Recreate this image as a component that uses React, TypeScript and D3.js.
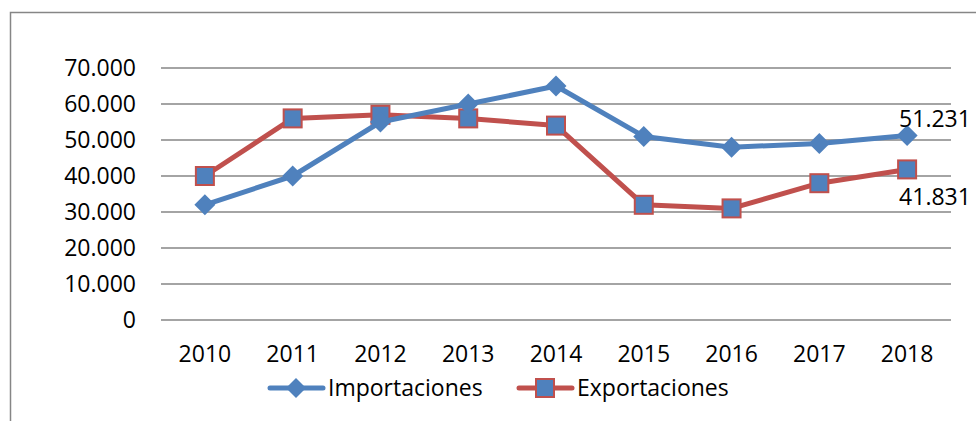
import { useEffect, useRef } from 'react';
import * as d3 from 'd3';

const years = ['2010', '2011', '2012', '2013', '2014', '2015', '2016', '2017', '2018'];
const importaciones = [32000, 40000, 55000, 60000, 65000, 51000, 48000, 49000, 51231];
const exportaciones = [40000, 56000, 57000, 56000, 54000, 32000, 31000, 38000, 41831];
const yTicks = [0, 10000, 20000, 30000, 40000, 50000, 60000, 70000];

const width = 976;
const height = 421;
const blue = '#4F81BD';
const red = '#C0504D';
const font = '"Open Sans", Lato, sans-serif';
const fs = 23;

const fmt = (v: number) => {
    if (v === 0) return '0';
    const s = Math.round(v).toString();
    return s.replace(/\B(?=(\d{3})+(?!\d))/g, '.');
};

export default function App() {
    const ref = useRef<SVGSVGElement>(null);

    useEffect(() => {
        const svg = d3.select(ref.current);
        svg.selectAll('*').remove();

        const x = d3.scaleBand().domain(years).range([161, 951]);
        const y = d3.scaleLinear().domain([0, 70000]).range([320, 68]);
        const cx = (d: string) => (x(d) ?? 0) + x.bandwidth() / 2;

        // frame
        svg.append('path')
            .attr('d', `M10.5,${height} L10.5,12.5 L${width},12.5`)
            .attr('fill', 'none')
            .attr('stroke', '#868686')
            .attr('stroke-width', 1.5);

        // grid
        svg.append('g').selectAll('line').data(yTicks).join('line')
            .attr('x1', 161).attr('x2', 951)
            .attr('y1', d => y(d)).attr('y2', d => y(d))
            .attr('stroke', '#868686').attr('stroke-width', 1.5);

        svg.append('g').selectAll('text').data(yTicks).join('text')
            .attr('x', 136).attr('y', d => y(d))
            .attr('dy', '0.35em')
            .attr('text-anchor', 'end')
            .attr('font-family', font).attr('font-size', fs)
            .text(d => fmt(d));

        svg.append('g').selectAll('text').data(years).join('text')
            .attr('x', d => cx(d)).attr('y', 354)
            .attr('dy', '0.35em')
            .attr('text-anchor', 'middle')
            .attr('font-family', font).attr('font-size', fs)
            .text(d => d);

        const line = d3.line<number>()
            .x((_, i) => cx(years[i]))
            .y(d => y(d));

        const diamond = (s: number) => `M0,${-s} L${s},0 L0,${s} L${-s},0 Z`;

        // exportaciones
        svg.append('path').attr('d', line(exportaciones))
            .attr('fill', 'none').attr('stroke', red).attr('stroke-width', 5)
            .attr('stroke-linejoin', 'round');
        svg.append('g').selectAll('rect').data(exportaciones).join('rect')
            .attr('x', (_, i) => cx(years[i]) - 9)
            .attr('y', d => y(d) - 9)
            .attr('width', 18).attr('height', 18)
            .attr('fill', blue).attr('stroke', red).attr('stroke-width', 2);

        // importaciones
        svg.append('path').attr('d', line(importaciones))
            .attr('fill', 'none').attr('stroke', blue).attr('stroke-width', 5)
            .attr('stroke-linejoin', 'round');
        svg.append('g').selectAll('path.m').data(importaciones).join('path')
            .attr('class', 'm')
            .attr('transform', (d, i) => `translate(${cx(years[i])},${y(d)})`)
            .attr('d', diamond(10.5))
            .attr('fill', blue);

        // value labels
        const last = years.length - 1;
        svg.append('text')
            .attr('x', cx(years[last]) - 8).attr('y', y(importaciones[last]) - 9)
            .attr('font-family', font).attr('font-size', fs)
            .text(fmt(importaciones[last]));
        svg.append('text')
            .attr('x', cx(years[last]) - 8).attr('y', y(exportaciones[last]) + 36)
            .attr('font-family', font).attr('font-size', fs)
            .text(fmt(exportaciones[last]));

        // legend
        const ly = 388;
        const lg = svg.append('g');
        lg.append('line').attr('x1', 270).attr('x2', 323).attr('y1', ly).attr('y2', ly)
            .attr('stroke', blue).attr('stroke-width', 5).attr('stroke-linecap', 'round');
        lg.append('path').attr('transform', `translate(296,${ly})`).attr('d', diamond(10)).attr('fill', blue);
        lg.append('text').attr('x', 328).attr('y', ly).attr('dy', '0.35em')
            .attr('font-family', font).attr('font-size', fs).text('Importaciones');
        lg.append('line').attr('x1', 519).attr('x2', 572).attr('y1', ly).attr('y2', ly)
            .attr('stroke', red).attr('stroke-width', 5).attr('stroke-linecap', 'round');
        lg.append('rect').attr('x', 536).attr('y', ly - 9).attr('width', 18).attr('height', 18)
            .attr('fill', blue).attr('stroke', red).attr('stroke-width', 2);
        lg.append('text').attr('x', 577).attr('y', ly).attr('dy', '0.35em')
            .attr('font-family', font).attr('font-size', fs).text('Exportaciones');
    }, []);

    return (
        <svg ref={ref} width={width} height={height}
            style={{ position: 'absolute', left: 0, top: 0, background: 'white' }} />
    );
}
